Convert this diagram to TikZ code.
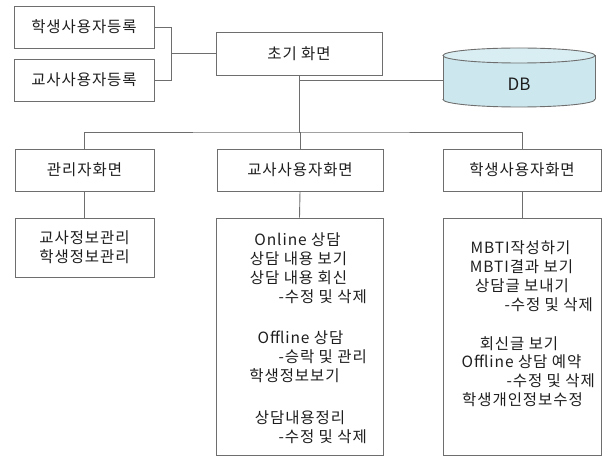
\documentclass[tikz,border=0pt]{standalone}
\usepackage{fontspec}
\setmainfont{Noto Sans CJK KR}[LetterSpace=6]
\newfontfamily\dbfont{Noto Sans CJK KR}
\definecolor{linegray}{HTML}{6E6E6E}
\definecolor{txtgray}{HTML}{1E1E1E}
\definecolor{dbfill}{HTML}{CDE7EE}
\definecolor{dbtop}{HTML}{D9EEF3}
\begin{document}
\begin{tikzpicture}[x=1pt,y=-1pt,
  box/.style={draw=linegray, line width=0.9pt, fill=white, inner sep=0pt, text=txtgray,
    font=\fontsize{15.5}{18}\selectfont},
  conn/.style={draw=linegray, line width=0.9pt},
  ln/.style={inner sep=0pt, text=txtgray, font=\fontsize{15.5}{18}\selectfont}]
\useasboundingbox (0,0) rectangle (603,457);

% top level
\node[box, minimum width=140, minimum height=42] (sreg) at (84,27) {학생사용자등록};
\node[box, minimum width=140, minimum height=42] (treg) at (84,80) {교사사용자등록};
\node[box, minimum width=166, minimum height=43] (init) at (299,53.5) {초기 화면};
\coordinate (jn) at (171,53.5);
\draw[conn] (sreg.east) -| (jn);
\draw[conn] (treg.east) -| (jn);
\draw[conn] (jn) -- (init.west);

% DB cylinder
\fill[dbfill, draw=linegray, line width=0.9pt] (519,99.5) ellipse [x radius=76, y radius=7.5];
\fill[dbfill] (443,55.5) rectangle (595,99.5);
\draw[conn] (443,55.5) -- (443,99.5);
\draw[conn] (595,55.5) -- (595,99.5);
\filldraw[fill=dbtop, draw=linegray, line width=0.9pt] (519,55.5) ellipse [x radius=76, y radius=7.5];
\node[inner sep=0pt, text=txtgray, font=\dbfont\fontsize{17}{19}\selectfont] (db) at (519,84) {DB};
\coordinate (dbw) at (443,80);

% second level
\node[box, minimum width=139, minimum height=42] (admin) at (84.5,170) {관리자화면};
\node[box, minimum width=166, minimum height=42] (teach) at (300,170) {교사사용자화면};
\node[box, minimum width=158, minimum height=42] (stud) at (522,170) {학생사용자화면};
\coordinate (bus) at (299,132);
\draw[conn] (init.south) -- (bus);
\draw[conn] (init.south |- dbw) -- (dbw);
\draw[conn] (admin.north) |- (bus) -| (stud.north);
\draw[conn] (bus) -| (teach.north);

% third level
\node[box, minimum width=139, minimum height=59, align=center] (adminsub) at (84.5,247.5) {교사정보관리\\[1pt]학생정보관리};
\node[box, minimum width=167, minimum height=237] (teachsub) at (299.5,336.5) {};
\node[box, minimum width=158, minimum height=237] (studsub) at (522,336.5) {};
\draw[conn] (admin.south) -- (adminsub.north);
\draw[conn] (teach.south) -- (teachsub.north);
\draw[conn] (stud.south) -- (studsub.north);

% teacher lines
\node[ln] (t1) at (297.5,240) {Online 상담};
\node[ln] (t2) at (298.5,259) {상담 내용 보기};
\node[ln] (t3) at (298.5,278) {상담 내용 회신};
\node[ln, anchor=east] (t4) at (367,297) {-수정 및 삭제};
\node[ln] (t5) at (300.5,338) {Offline 상담};
\node[ln, anchor=east] (t6) at (367,357) {-승락 및 관리};
\node[ln] (t7) at (294.5,376) {학생정보보기};
\node[ln] (t8) at (300,418) {상담내용정리};
\node[ln, anchor=east] (t9) at (367,437) {-수정 및 삭제};

% student lines
\node[ln] (s1) at (520.5,248) {MBTI작성하기};
\node[ln] (s2) at (521.5,267) {MBTI결과 보기};
\node[ln] (s3) at (522,286) {상담글 보내기};
\node[ln, anchor=east] (s4) at (593,305) {-수정 및 삭제};
\node[ln] (s5) at (519,344) {회신글 보기};
\node[ln] (s6) at (521.5,362) {Offline 상담 예약};
\node[ln, anchor=east] (s7) at (595,381) {-수정 및 삭제};
\node[ln] (s8) at (522.5,400) {학생개인정보수정};
\end{tikzpicture}
\end{document}
